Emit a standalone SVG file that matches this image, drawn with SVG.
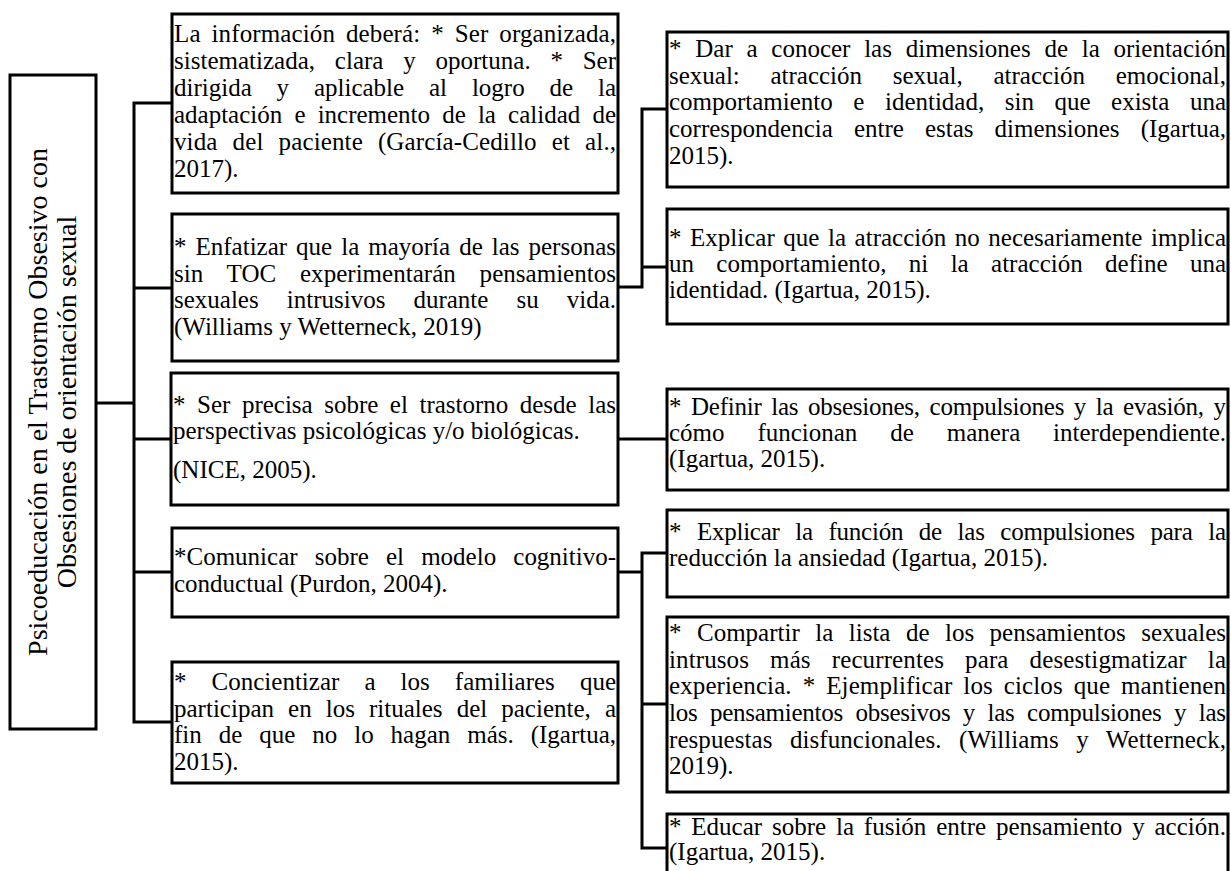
<svg xmlns="http://www.w3.org/2000/svg" width="1231" height="871" viewBox="0 0 1231 871">
<style>
.box{fill:#fff;stroke:#000;stroke-width:3}
.t{font-family:"Liberation Serif","Times New Roman",serif;font-size:25px;fill:#000}
.rt{font-family:"Liberation Serif","Times New Roman",serif;font-size:28px;fill:#000;text-anchor:middle}
.con{fill:none;stroke:#000;stroke-width:3}
</style>
<rect width="1231" height="871" fill="#fff"/>
<g id="connectors">
<path class="con" d="M96 403H134" stroke-width="4"/>
<path class="con" d="M172 103H134V722H172"/>
<path class="con" d="M134 288H172M134 439H172M134 572H172"/>
<path class="con" d="M618 287H642V109H667M642 267H667"/>
<path class="con" d="M618 439H667"/>
<path class="con" d="M618 572H642" stroke-width="4"/>
<path class="con" d="M667 553H642V848H667M642 704H667"/>
</g>
<g id="root">
<rect class="box" x="10" y="75" width="86" height="654"/>
<text class="rt" transform="translate(47,402) rotate(-90)">Psicoeducación en el Trastorno Obsesivo con</text>
<text class="rt" transform="translate(76,402) rotate(-90)">Obsesiones de orientación sexual</text>
</g>
<g id="b1">
<rect class="box" x="172" y="14" width="446" height="179"/>
<text class="t" x="174" y="42" word-spacing="4.5" textLength="442" lengthAdjust="spacing">La información deberá: * Ser organizada,</text>
<text class="t" x="174" y="69" word-spacing="13.5" textLength="442" lengthAdjust="spacing">sistematizada, clara y oportuna. * Ser</text>
<text class="t" x="174" y="96" word-spacing="18.6" textLength="442" lengthAdjust="spacing">dirigida y aplicable al logro de la</text>
<text class="t" x="174" y="123" word-spacing="5.9" textLength="442" lengthAdjust="spacing">adaptación e incremento de la calidad de</text>
<text class="t" x="174" y="150" word-spacing="8.7" textLength="442" lengthAdjust="spacing">vida del paciente (García-Cedillo et al.,</text>
<text class="t" x="174" y="177">2017).</text>
</g>
<g id="b2">
<rect class="box" x="172" y="214" width="446" height="147"/>
<text class="t" x="174" y="255" word-spacing="2.7" textLength="442" lengthAdjust="spacing">* Enfatizar que la mayoría de las personas</text>
<text class="t" x="174" y="282" word-spacing="17.5" textLength="442" lengthAdjust="spacing">sin TOC experimentarán pensamientos</text>
<text class="t" x="174" y="308" word-spacing="21.8" textLength="442" lengthAdjust="spacing">sexuales intrusivos durante su vida.</text>
<text class="t" x="174" y="335">(Williams y Wetterneck, 2019)</text>
</g>
<g id="b3">
<rect class="box" x="171" y="373" width="447" height="132"/>
<text class="t" x="173" y="413" word-spacing="5.3" textLength="443" lengthAdjust="spacing">* Ser precisa sobre el trastorno desde las</text>
<text class="t" x="173" y="439">perspectivas psicológicas y/o biológicas.</text>
<text class="t" x="173" y="478">(NICE, 2005).</text>
</g>
<g id="b4">
<rect class="box" x="172" y="528" width="446" height="89"/>
<text class="t" x="174" y="565" word-spacing="10.9" textLength="442" lengthAdjust="spacing">*Comunicar sobre el modelo cognitivo-</text>
<text class="t" x="174" y="592">conductual (Purdon, 2004).</text>
</g>
<g id="b5">
<rect class="box" x="172" y="662" width="446" height="121"/>
<text class="t" x="174" y="690" word-spacing="18.8" textLength="442" lengthAdjust="spacing">* Concientizar a los familiares que</text>
<text class="t" x="174" y="717" word-spacing="7.8" textLength="442" lengthAdjust="spacing">participan en los rituales del paciente, a</text>
<text class="t" x="174" y="743" word-spacing="10.7" textLength="442" lengthAdjust="spacing">fin de que no lo hagan más. (Igartua,</text>
<text class="t" x="174" y="770">2015).</text>
</g>
<g id="r1">
<rect class="box" x="667" y="32" width="561" height="155"/>
<text class="t" x="669" y="57" word-spacing="7.5" textLength="557" lengthAdjust="spacing">* Dar a conocer las dimensiones de la orientación</text>
<text class="t" x="669" y="84" word-spacing="24.4" textLength="557" lengthAdjust="spacing">sexual: atracción sexual, atracción emocional,</text>
<text class="t" x="669" y="110" word-spacing="14.3" textLength="557" lengthAdjust="spacing">comportamiento e identidad, sin que exista una</text>
<text class="t" x="669" y="137" word-spacing="14.8" textLength="557" lengthAdjust="spacing">correspondencia entre estas dimensiones (Igartua,</text>
<text class="t" x="669" y="164">2015).</text>
</g>
<g id="r2">
<rect class="box" x="667" y="209" width="561" height="115"/>
<text class="t" x="669" y="246" word-spacing="2.3" textLength="557" lengthAdjust="spacing">* Explicar que la atracción no necesariamente implica</text>
<text class="t" x="669" y="272" word-spacing="16.1" textLength="557" lengthAdjust="spacing">un comportamiento, ni la atracción define una</text>
<text class="t" x="669" y="298">identidad. (Igartua, 2015).</text>
</g>
<g id="r3">
<rect class="box" x="667" y="389" width="561" height="101"/>
<text class="t" x="669" y="415" word-spacing="3.7" textLength="557" lengthAdjust="spacing">* Definir las obsesiones, compulsiones y la evasión, y</text>
<text class="t" x="669" y="441" word-spacing="26.6" textLength="557" lengthAdjust="spacing">cómo funcionan de manera interdependiente.</text>
<text class="t" x="669" y="467">(Igartua, 2015).</text>
</g>
<g id="r4">
<rect class="box" x="667" y="510" width="561" height="87"/>
<text class="t" x="669" y="540" word-spacing="9.7" textLength="557" lengthAdjust="spacing">* Explicar la función de las compulsiones para la</text>
<text class="t" x="669" y="566">reducción la ansiedad (Igartua, 2015).</text>
</g>
<g id="r5">
<rect class="box" x="667" y="617" width="561" height="175"/>
<text class="t" x="669" y="641" word-spacing="9.2" textLength="557" lengthAdjust="spacing">* Compartir la lista de los pensamientos sexuales</text>
<text class="t" x="669" y="668" word-spacing="14.7" textLength="557" lengthAdjust="spacing">intrusos más recurrentes para desestigmatizar la</text>
<text class="t" x="669" y="694" word-spacing="4.6" textLength="557" lengthAdjust="spacing">experiencia. * Ejemplificar los ciclos que mantienen</text>
<text class="t" x="669" y="721" word-spacing="6.5" textLength="557" lengthAdjust="spacing">los pensamientos obsesivos y las compulsiones y las</text>
<text class="t" x="669" y="748" word-spacing="11.2" textLength="557" lengthAdjust="spacing">respuestas disfuncionales. (Williams y Wetterneck,</text>
<text class="t" x="669" y="774">2019).</text>
</g>
<g id="r6">
<rect class="box" x="667" y="814" width="561" height="70"/>
<text class="t" x="669" y="835" word-spacing="3.6" textLength="557" lengthAdjust="spacing">* Educar sobre la fusión entre pensamiento y acción.</text>
<text class="t" x="669" y="860">(Igartua, 2015).</text>
</g>
</svg>
